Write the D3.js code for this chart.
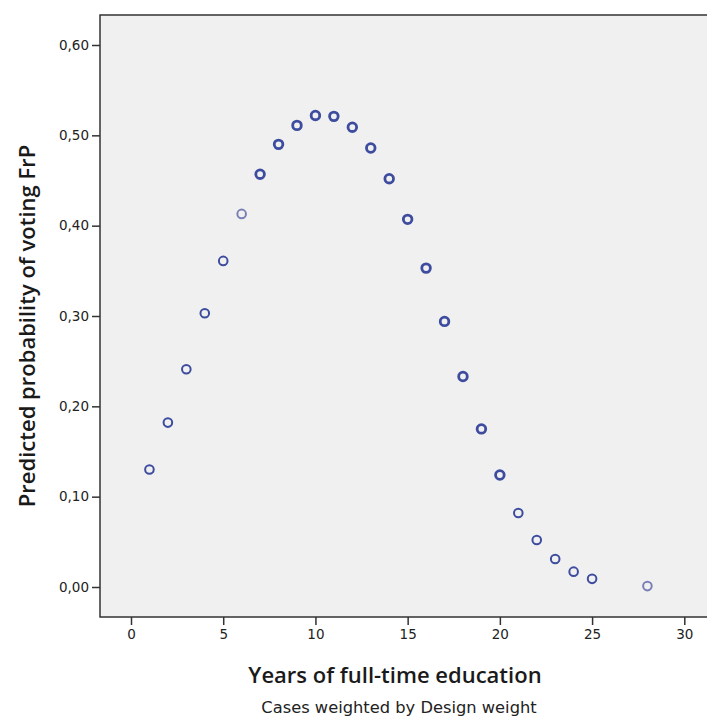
<!DOCTYPE html>
<html><head><meta charset="utf-8">
<script src="https://cdn.jsdelivr.net/npm/d3@7"></script>
<style>body{margin:0;background:#fff}svg{display:block}</style>
</head><body>
<svg id="c" width="707" height="717"></svg>
<script>
const years = [1,2,3,4,5,6,7,8,9,10,11,12,13,14,15,16,17,18,19,20,21,22,23,24,25,28];
const probability = [0.130,0.182,0.241,0.303,0.361,0.413,0.457,0.490,0.511,0.522,0.521,0.509,0.486,0.452,0.407,0.353,0.294,0.233,0.175,0.124,0.082,0.052,0.031,0.017,0.009,0.001];
const xTicks = [0,5,10,15,20,25,30];
const yTicks = [0,0.1,0.2,0.3,0.4,0.5,0.6];
const xTitle = "Years of full-time education";
const yTitle = "Predicted probability of voting FrP";
const footnote = "Cases weighted by Design weight";

const svg = d3.select("#c");
const frame = {left:100, top:15, right:708, bottom:617};
const x = d3.scaleLinear().domain([0,30]).range([131,684.3]);
const y = d3.scaleLinear().domain([0,0.6]).range([587,45]);

svg.append("rect").attr("x",frame.left).attr("y",frame.top)
  .attr("width",frame.right-frame.left).attr("height",frame.bottom-frame.top)
  .attr("fill","#f0f0f0").attr("stroke","#333").attr("stroke-width",1.5);

const fmt = d => d3.format(".2f")(d).replace(".",",");
const yAxis = svg.append("g").attr("transform",`translate(${frame.left},0)`)
  .call(d3.axisLeft(y).tickValues(yTicks).tickFormat(fmt).tickSize(8).tickPadding(3));
const xAxis = svg.append("g").attr("transform",`translate(0,${frame.bottom})`)
  .call(d3.axisBottom(x).tickValues(xTicks).tickFormat(d3.format("d")).tickSize(8).tickPadding(4));
[yAxis,xAxis].forEach(a=>{
  a.select(".domain").remove();
  a.selectAll(".tick line").attr("stroke","#333").attr("stroke-width",1.5);
  a.selectAll(".tick text").attr("fill","#222").attr("font-family","'DejaVu Sans', sans-serif").attr("font-size",13.5);
});

svg.append("g").selectAll("circle").data(years).join("circle")
  .attr("cx",(d)=>x(d)).attr("cy",(d,i)=>y(probability[i])).attr("r",4.3)
  .attr("fill","none")
  .attr("stroke",(d)=> (d===6||d===28) ? "#7a80b6" : "#3d4c9e")
  .attr("stroke-width",(d)=> (d>=7&&d<=20) ? 2.8 : 2);

svg.append("text").attr("x",395).attr("y",683).attr("text-anchor","middle")
  .attr("font-family","'Open Sans', sans-serif").attr("font-weight",600).attr("font-size",22).attr("fill","#1a1a1a").text(xTitle);
svg.append("text").attr("x",399).attr("y",713).attr("text-anchor","middle")
  .attr("font-family","'DejaVu Sans', sans-serif").attr("font-size",16.3).attr("fill","#222").text(footnote);
svg.append("text").attr("transform","translate(35,326) rotate(-90)").attr("text-anchor","middle")
  .attr("font-family","'Open Sans', sans-serif").attr("font-weight",600).attr("font-size",22).attr("fill","#1a1a1a").text(yTitle);
</script>
</body></html>
